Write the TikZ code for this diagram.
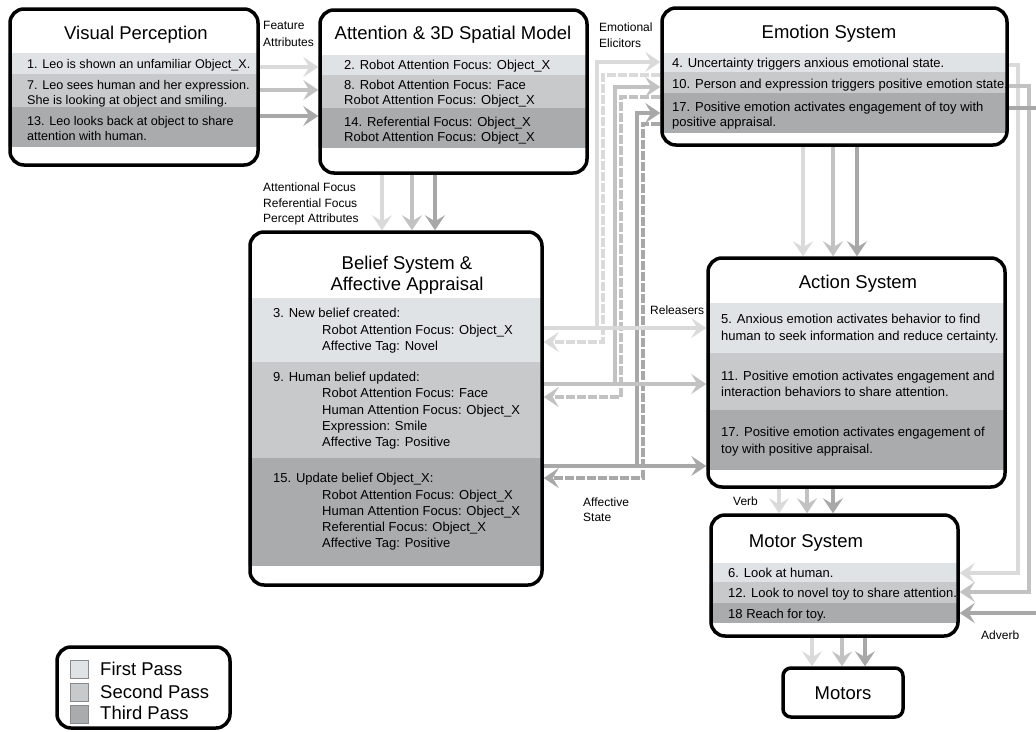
\documentclass[tikz,border=0pt]{standalone}
\usepackage{fontspec}
\setmainfont{Liberation Sans}
\usetikzlibrary{arrows.meta,backgrounds}
\definecolor{bandA}{HTML}{E0E3E5}
\definecolor{bandB}{HTML}{C7C9CB}
\definecolor{bandC}{HTML}{AAABAD}
\definecolor{arrA}{HTML}{DADADA}
\definecolor{arrB}{HTML}{C2C2C2}
\definecolor{arrC}{HTML}{A8A8A8}
\definecolor{sqedge}{HTML}{8A8A8A}
\newcommand\bandfill[4]{\fill[#1] (#2.west |- 0,#3) rectangle (#2.east |- 0,#4);}
\begin{document}
\begin{tikzpicture}[x=1pt,y=-1pt,
  box/.style={draw=black,line width=3.5pt,rounded corners=14pt,inner sep=0pt},
  ttl/.style={font=\fontsize{18.5}{22}\selectfont,inner sep=0pt,anchor=base},
  txt/.style={font=\fontsize{13}{15.5}\selectfont,anchor=base west,inner sep=0pt},
  txts/.style={font=\fontsize{12.6}{15.5}\selectfont,anchor=base west,inner sep=0pt},
  lbl/.style={font=\fontsize{12}{14}\selectfont,anchor=base west,inner sep=0pt},
  lgd/.style={font=\fontsize{18.5}{22}\selectfont,anchor=base west,inner sep=0pt},
  tipS/.style={-{Stealth[length=15pt,width=20pt,inset=6pt]}},
  aA/.style={draw=arrA,line width=4pt,tipS},
  aB/.style={draw=arrB,line width=4pt,tipS},
  aC/.style={draw=arrC,line width=4pt,tipS},
  dsh/.style={dash pattern=on 9pt off 2pt},
]
\useasboundingbox (0,0) rectangle (1036,731);

% ---------- boxes ----------
\node[box,minimum width=248pt,minimum height=156pt] (vp) at (134,87) {};
\node[box,minimum width=267pt,minimum height=163pt] (at) at (453.5,91.5) {};
\node[box,minimum width=345pt,minimum height=137pt] (em) at (834.5,76.5) {};
\node[box,minimum width=292pt,minimum height=353pt] (be) at (396,408.5) {};
\node[box,minimum width=297pt,minimum height=229pt] (ac) at (856.5,372.5) {};
\node[box,minimum width=247pt,minimum height=121pt] (mo) at (834.5,575.5) {};
\node[box,rounded corners=8pt,minimum width=120pt,minimum height=49pt] (mt) at (843,692.5) {};
\node[box,minimum width=173pt,minimum height=81pt] (lg) at (143.5,687.5) {};

% ---------- bands ----------
\begin{pgfonlayer}{background}
\begin{scope}
\clip[rounded corners=14pt] (vp.north west) rectangle (vp.south east);
\bandfill{bandA}{vp}{53}{74}\bandfill{bandB}{vp}{74}{107}\bandfill{bandC}{vp}{107}{147}
\end{scope}
\begin{scope}
\clip[rounded corners=14pt] (at.north west) rectangle (at.south east);
\bandfill{bandA}{at}{55}{75}\bandfill{bandB}{at}{75}{108}\bandfill{bandC}{at}{108}{148}
\end{scope}
\begin{scope}
\clip[rounded corners=14pt] (em.north west) rectangle (em.south east);
\bandfill{bandA}{em}{53}{72}\bandfill{bandB}{em}{72}{93}\bandfill{bandC}{em}{93}{133}
\end{scope}
\begin{scope}
\clip[rounded corners=14pt] (be.north west) rectangle (be.south east);
\bandfill{bandA}{be}{298}{362}\bandfill{bandB}{be}{362}{458}\bandfill{bandC}{be}{458}{566}
\end{scope}
\begin{scope}
\clip[rounded corners=14pt] (ac.north west) rectangle (ac.south east);
\bandfill{bandA}{ac}{303}{353}\bandfill{bandB}{ac}{353}{410}\bandfill{bandC}{ac}{410}{470}
\end{scope}
\begin{scope}
\clip[rounded corners=14pt] (mo.north west) rectangle (mo.south east);
\bandfill{bandA}{mo}{563}{582}\bandfill{bandB}{mo}{582}{603}\bandfill{bandC}{mo}{603}{623}
\end{scope}
\end{pgfonlayer}

% ---------- titles ----------
\node[ttl] (vpt) at (136,39.6) {Visual Perception};
\node[ttl] (att) at (453,39.6) {Attention \& 3D Spatial Model};
\node[ttl] (emt) at (829,38.6) {Emotion System};
\node[ttl] (bet1) at (407,269.6) {Belief System \&};
\node[ttl] (bet2) at (407,290.6) {Affective Appraisal};
\node[ttl] (act) at (858,288.6) {Action System};
\node[ttl] (mot) at (806,547.6) {Motor System};
\node[ttl] (mtt) at (843,699.6) {Motors};

% ---------- visual perception text ----------
\node[txts] (vp1) at (27,68.6) {1. Leo is shown an unfamiliar Object\_X.};
\node[txts] (vp2) at (27,89.6) {7. Leo sees human and her expression.};
\node[txts] (vp3) at (27,104.6) {She is looking at object and smiling.};
\node[txts] (vp4) at (27,125.6) {13. Leo looks back at object to share};
\node[txts] (vp5) at (27,140.6) {attention with human.};

% ---------- attention text ----------
\node[txt] (at1) at (344,69.6) {2. Robot Attention Focus: Object\_X};
\node[txt] (at2) at (344,89.6) {8. Robot Attention Focus: Face};
\node[txt] (at3) at (344,104.6) {Robot Attention Focus: Object\_X};
\node[txt] (at4) at (344,126.6) {14. Referential Focus: Object\_X};
\node[txt] (at5) at (344,141.6) {Robot Attention Focus: Object\_X};

% ---------- emotion text ----------
\node[txt] (em1) at (672,67.6) {4. Uncertainty triggers anxious emotional state.};
\node[txt] (em2) at (672,88.6) {10. Person and expression triggers positive emotion state.};
\node[txt] (em3) at (672,111.6) {17. Positive emotion activates engagement of toy with};
\node[txt] (em4) at (672,126.6) {positive appraisal.};

% ---------- belief text ----------
\node[txt] (be1) at (273,317.6) {3. New belief created:};
\node[txt] (be2) at (322,334.6) {Robot Attention Focus: Object\_X};
\node[txt] (be3) at (322,350.6) {Affective Tag: Novel};
\node[txt] (be4) at (273,381.6) {9. Human belief updated:};
\node[txt] (be5) at (322,397.6) {Robot Attention Focus: Face};
\node[txt] (be6) at (322,414.6) {Human Attention Focus: Object\_X};
\node[txt] (be7) at (322,430.6) {Expression: Smile};
\node[txt] (be8) at (322,446.6) {Affective Tag: Positive};
\node[txt] (be9) at (273,482.6) {15. Update belief Object\_X:};
\node[txt] (be10) at (322,499.6) {Robot Attention Focus: Object\_X};
\node[txt] (be11) at (322,515.6) {Human Attention Focus: Object\_X};
\node[txt] (be12) at (322,531.6) {Referential Focus: Object\_X};
\node[txt] (be13) at (322,547.6) {Affective Tag: Positive};

% ---------- action text ----------
\node[txt] (ac1) at (721,323.6) {5. Anxious emotion activates behavior to find};
\node[txt] (ac2) at (721,340.6) {human to seek information and reduce certainty.};
\node[txt] (ac3) at (721,380.6) {11. Positive emotion activates engagement and};
\node[txt] (ac4) at (721,396.6) {interaction behaviors to share attention.};
\node[txt] (ac5) at (721,436.6) {17. Positive emotion activates engagement of};
\node[txt] (ac6) at (721,453.6) {toy with positive appraisal.};

% ---------- motor text ----------
\node[txt] (mo1) at (728,577.6) {6. Look at human.};
\node[txt] (mo2) at (728,597.6) {12. Look to novel toy to share attention.};
\node[txt] (mo3) at (728,618.6) {18 Reach for toy.};

% ---------- labels ----------
\node[lbl] (l1) at (263,29.3) {Feature};
\node[lbl] (l2) at (263,46.3) {Attributes};
\node[lbl] (l3) at (599,31.3) {Emotional};
\node[lbl] (l4) at (599,47.3) {Elicitors};
\node[lbl] (l5) at (263,191.3) {Attentional Focus};
\node[lbl] (l6) at (263,207.3) {Referential Focus};
\node[lbl] (l7) at (263,222.3) {Percept Attributes};
\node[lbl] (l8) at (650,314.3) {Releasers};
\node[lbl] (l9) at (583,506.3) {Affective};
\node[lbl] (l10) at (583,521.3) {State};
\node[lbl] (l11) at (733,505.3) {Verb};
\node[lbl] (l12) at (981,639.3) {Adverb};

% ---------- legend ----------
\filldraw[fill=bandA,draw=sqedge,line width=1pt] (70,660) rectangle (88,678);
\filldraw[fill=bandB,draw=sqedge,line width=1pt] (70,683) rectangle (88,701);
\filldraw[fill=bandC,draw=sqedge,line width=1pt] (70,705) rectangle (88,723);
\node[lgd] (lg1) at (100,675.6) {First Pass};
\node[lgd] (lg2) at (100,698.6) {Second Pass};
\node[lgd] (lg3) at (100,719.6) {Third Pass};

% ---------- connectors ----------
% visual -> attention
\draw[aA] (vp.east |- 0,67) -- (at.west |- 0,67);
\draw[aB] (vp.east |- 0,90) -- (at.west |- 0,90);
\draw[aC] (vp.east |- 0,116) -- (at.west |- 0,116);
% attention -> belief
\draw[aA] (at.south -| 382,0) -- (be.north -| 382,0);
\draw[aB] (at.south -| 412,0) -- (be.north -| 412,0);
\draw[aC] (at.south -| 435,0) -- (be.north -| 435,0);
% emotion -> action
\draw[aA] (em.south -| 803,0) -- (ac.north -| 803,0);
\draw[aB] (em.south -| 833,0) -- (ac.north -| 833,0);
\draw[aC] (em.south -| 857,0) -- (ac.north -| 857,0);
% action -> motor
\draw[aA] (ac.south -| 779,0) -- (mo.north -| 779,0);
\draw[aB] (ac.south -| 807,0) -- (mo.north -| 807,0);
\draw[aC] (ac.south -| 833,0) -- (mo.north -| 833,0);
% motor -> motors
\draw[aA] (mo.south -| 812,0) -- (mt.north -| 812,0);
\draw[aB] (mo.south -| 842,0) -- (mt.north -| 842,0);
\draw[aC] (mo.south -| 865,0) -- (mt.north -| 865,0);
% emotion -> belief (affective state, dashed)
\draw[aA,dsh] (em.west |- 0,75) -| (603,342) -- (be.east |- 0,342);
\draw[aB,dsh] (em.west |- 0,97) -| (621,397) -- (be.east |- 0,397);
\draw[aC,dsh] (em.west |- 0,124) -| (643,478) -- (be.east |- 0,478);
% belief -> emotion (emotional elicitors)
\draw[aA] (be.east |- 0,328) -| (597,62) -- (em.west |- 0,62);
\draw[aB] (be.east |- 0,384) -| (615,87) -- (em.west |- 0,87);
\draw[aC] (be.east |- 0,466) -| (637,113) -- (em.west |- 0,113);
% belief -> action (releasers)
\draw[aA] (be.east |- 0,328) -- (ac.west |- 0,328);
\draw[aB] (be.east |- 0,384) -- (ac.west |- 0,384);
\draw[aC] (be.east |- 0,466) -- (ac.west |- 0,466);
% emotion -> motor (adverb)
\draw[aA] (em.east |- 0,65) -| (1018,573) -- (mo.east |- 0,573);
\draw[aB] (em.east |- 0,86) -| (1029,592) -- (mo.east |- 0,592);
\draw[aC] (em.east |- 0,108) -| (1038,613) -- (mo.east |- 0,613);
\end{tikzpicture}
\end{document}
